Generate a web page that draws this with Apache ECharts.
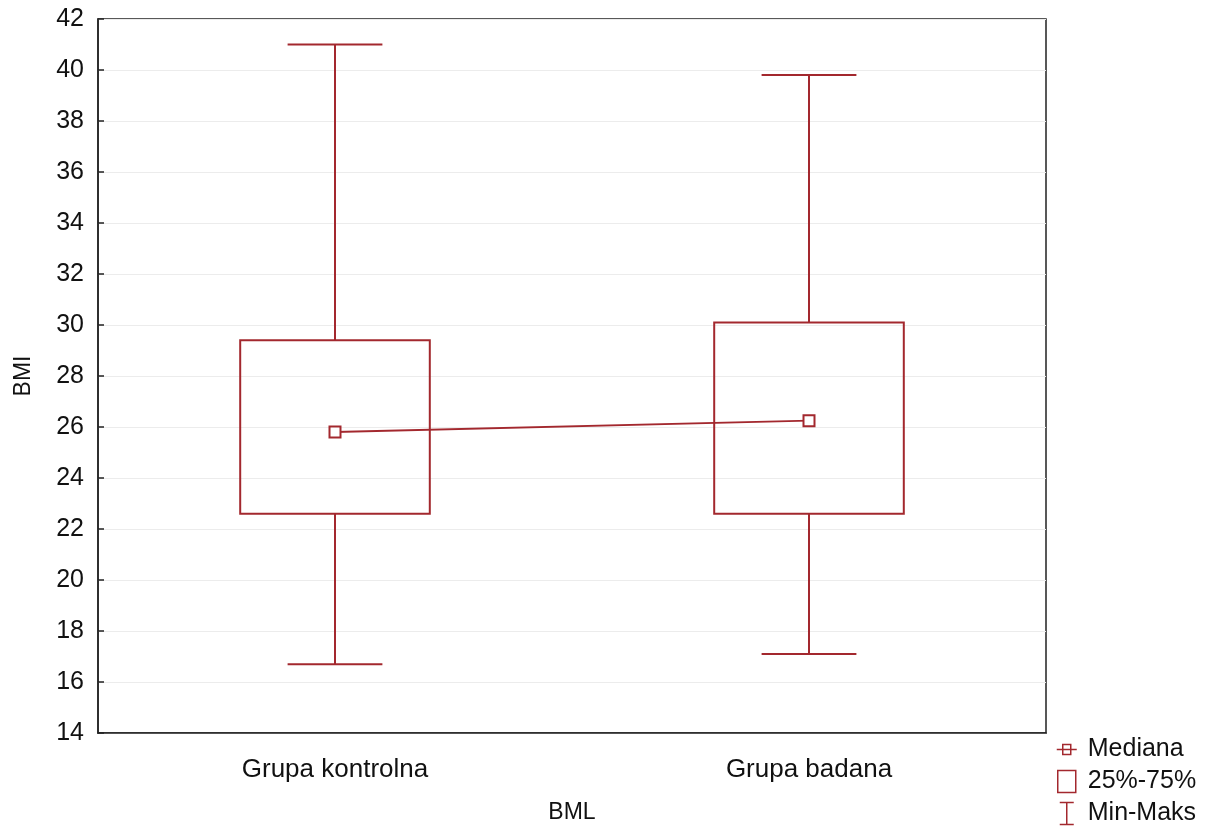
<!DOCTYPE html>
<html>
<head>
<meta charset="utf-8">
<script src="https://cdn.jsdelivr.net/npm/echarts@6/dist/echarts.min.js"></script>
<style>html,body{margin:0;padding:0;background:#fff;overflow:hidden;}#chart{width:1212px;height:829px;}</style>
</head>
<body>
<div id="chart"></div>
<script>
var categories = ['Grupa kontrolna', 'Grupa badana'];
var minVals = [16.7, 17.1];
var q1Vals = [22.6, 22.6];
var medianVals = [25.8, 26.25];
var q3Vals = [29.4, 30.1];
var maxVals = [41.0, 39.8];
var yTicks = [14, 42, 2];

var RED = '#a3282e';
var boxData = categories.map(function(c, i){ return [i, q1Vals[i], q3Vals[i]]; });
var whiskData = categories.map(function(c, i){ return [i, minVals[i], q1Vals[i], q3Vals[i], maxVals[i]]; });

var chart = echarts.init(document.getElementById('chart'), null, {renderer: 'canvas'});
var font = 'Liberation Sans, Arial, sans-serif';
chart.setOption({
  animation: false,
  backgroundColor: '#fff',
  grid: {left: 98, top: 19, width: 948, height: 721, show: true, borderColor: '#222', borderWidth: 1.5, backgroundColor: 'transparent'},
  xAxis: {
    type: 'category', data: categories, boundaryGap: true,
    name: 'BML', nameLocation: 'middle', nameGap: 68,
    nameTextStyle: {fontSize: 23, color: '#111', fontFamily: font},
    axisLine: {lineStyle: {color: '#222', width: 1.5}},
    axisTick: {inside: true, alignWithLabel: true, length: 6, lineStyle: {color: '#222', width: 1.5}},
    axisLabel: {fontSize: 26, color: '#111', fontFamily: font, margin: 24},
    splitLine: {show: false}
  },
  yAxis: {
    type: 'value', min: yTicks[0], max: yTicks[1], interval: yTicks[2],
    name: 'BMI', nameLocation: 'middle', nameGap: 63,
    nameTextStyle: {fontSize: 23, color: '#111', fontFamily: font},
    axisLine: {show: true, lineStyle: {color: '#222', width: 1.5}},
    axisTick: {show: true, inside: true, length: 6, lineStyle: {color: '#222', width: 1.5}},
    axisLabel: {fontSize: 25, color: '#111', fontFamily: font, margin: 14},
    splitLine: {show: true, lineStyle: {color: '#ececec', width: 1}}
  },
  legend: {
    orient: 'vertical', left: 1056, top: 737, height: 92, padding: 0, itemGap: 7, itemWidth: 20, itemHeight: 22,
    textStyle: {fontSize: 25, color: '#111', fontFamily: font, padding: [0, 0, 0, 6]},
    data: [
      {name: 'Mediana', icon: 'path://M0,11 L20,11 M6,6 L14,6 L14,16 L6,16 Z', itemStyle: {color: 'transparent', borderColor: RED, borderWidth: 1.5}},
      {name: '25%-75%', icon: 'path://M2,0 L20,0 L20,22 L2,22 Z', itemStyle: {color: 'transparent', borderColor: RED, borderWidth: 1.5}},
      {name: 'Min-Maks', icon: 'path://M3,0 L17,0 M10,0 L10,22 M3,22 L17,22', itemStyle: {color: 'transparent', borderColor: RED, borderWidth: 1.5}}
    ]
  },
  series: [
    {
      name: 'Min-Maks', type: 'custom', data: whiskData,
      encode: {x: 0, y: [1, 2, 3, 4]},
      itemStyle: {color: RED},
      renderItem: function(params, api){
        var i = api.value(0);
        var pMin = api.coord([i, api.value(1)]);
        var pQ1 = api.coord([i, api.value(2)]);
        var pQ3 = api.coord([i, api.value(3)]);
        var pMax = api.coord([i, api.value(4)]);
        var band = api.size([1, 0])[0];
        var cw = band * 0.1;
        var st = {stroke: RED, lineWidth: 2, fill: null};
        return {type: 'group', children: [
          {type: 'line', shape: {x1: pMax[0], y1: pMax[1], x2: pQ3[0], y2: pQ3[1]}, style: st},
          {type: 'line', shape: {x1: pQ1[0], y1: pQ1[1], x2: pMin[0], y2: pMin[1]}, style: st},
          {type: 'line', shape: {x1: pMax[0]-cw, y1: pMax[1], x2: pMax[0]+cw, y2: pMax[1]}, style: st},
          {type: 'line', shape: {x1: pMin[0]-cw, y1: pMin[1], x2: pMin[0]+cw, y2: pMin[1]}, style: st}
        ]};
      }
    },
    {
      name: '25%-75%', type: 'custom', data: boxData,
      encode: {x: 0, y: [1, 2]},
      itemStyle: {color: RED},
      renderItem: function(params, api){
        var i = api.value(0);
        var pQ1 = api.coord([i, api.value(1)]);
        var pQ3 = api.coord([i, api.value(2)]);
        var band = api.size([1, 0])[0];
        var bw = band * 0.4;
        return {type: 'rect', shape: {x: pQ1[0]-bw/2, y: pQ3[1], width: bw, height: pQ1[1]-pQ3[1]},
          style: {stroke: RED, lineWidth: 2, fill: null}};
      }
    },
    {
      name: 'Mediana', type: 'line', data: medianVals,
      symbol: 'rect', symbolSize: 11, showSymbol: true,
      lineStyle: {color: RED, width: 2},
      itemStyle: {color: '#fff', borderColor: RED, borderWidth: 2},
      z: 5
    }
  ]
});
</script>
</body>
</html>
